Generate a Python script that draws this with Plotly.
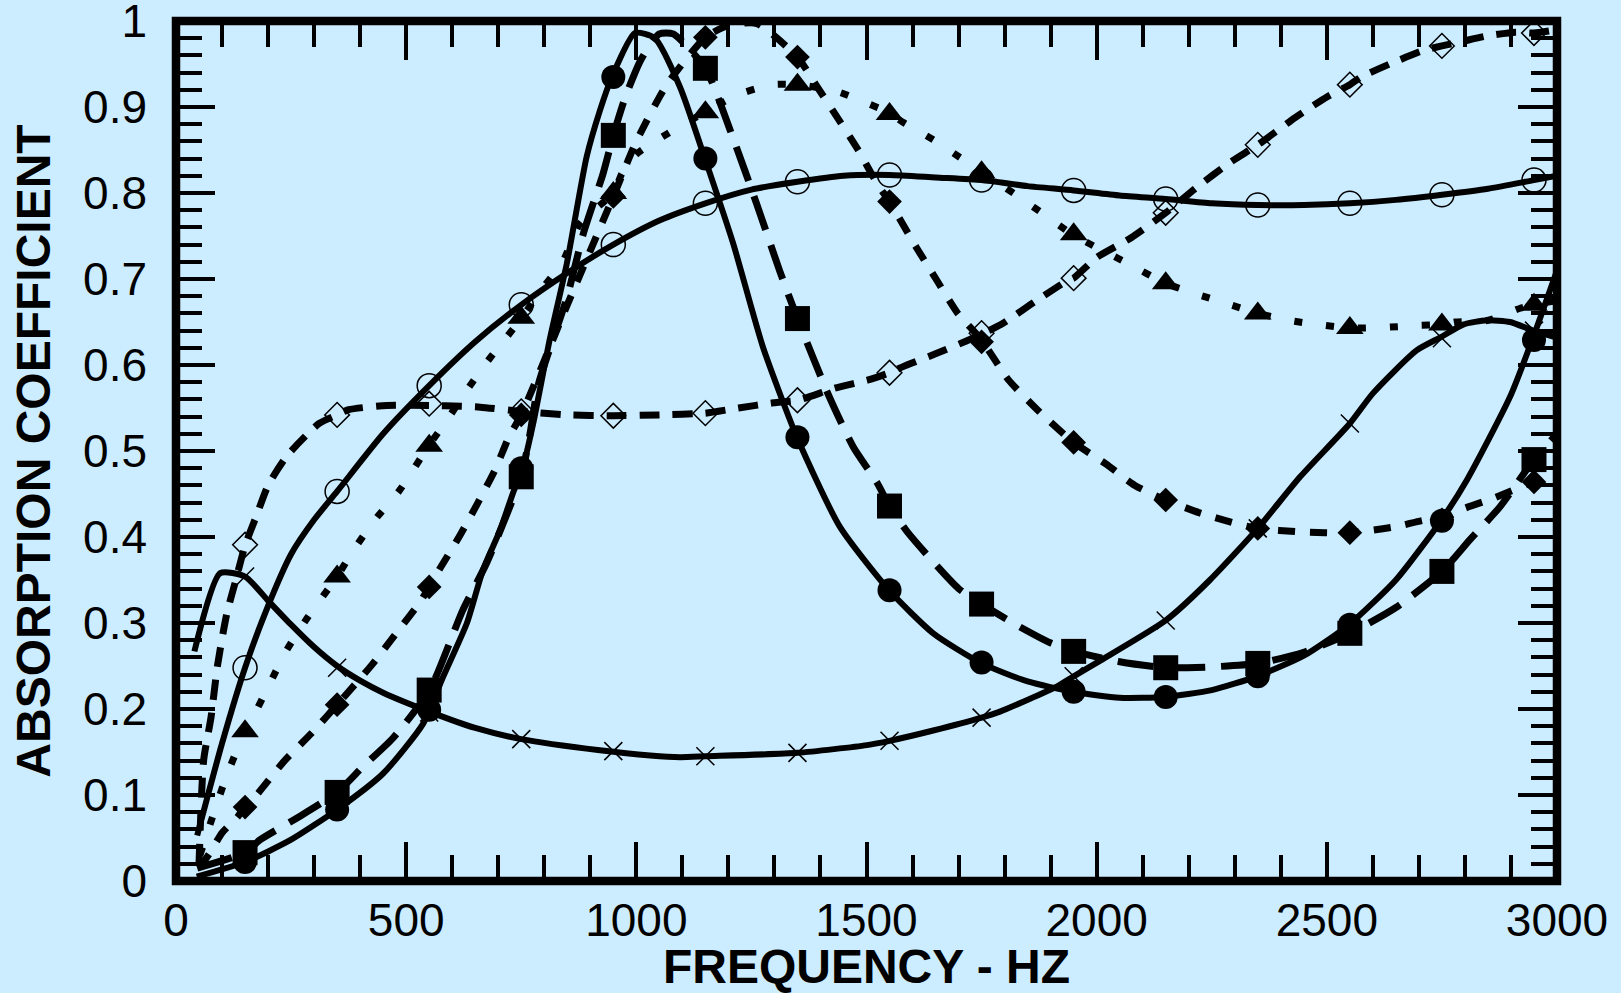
import plotly.graph_objects as go

# ---------------- data ----------------
marker_freq = [150, 350, 550, 750, 950, 1150, 1350, 1550, 1750, 1950, 2150, 2350, 2550, 2750, 2950]

# series 1: solid line, filled circles
s1_line_x = [45, 150, 250, 350, 450, 537, 580, 632, 667, 704, 732, 752, 776, 812, 849, 892, 921, 947, 997, 1040,
             1095, 1149, 1210, 1275, 1349, 1442, 1549, 1645, 1747, 1850, 1949, 2050, 2148, 2250, 2348, 2450, 2548,
             2650, 2748, 2804, 2898, 2946, 3000]
s1_line_y = [0.005, 0.022, 0.048, 0.083, 0.125, 0.183, 0.237, 0.300, 0.362, 0.408, 0.451, 0.478, 0.532, 0.630, 0.718,
             0.842, 0.896, 0.935, 0.986, 0.980, 0.923, 0.840, 0.742, 0.621, 0.516, 0.412, 0.338, 0.288, 0.254, 0.232,
             0.220, 0.213, 0.214, 0.222, 0.238, 0.262, 0.298, 0.350, 0.419, 0.466, 0.563, 0.629, 0.710]
s1_marks = [0.022, 0.083, 0.199, 0.480, 0.935, 0.840, 0.516, 0.338, 0.254, 0.220, 0.214, 0.238, 0.298, 0.419, 0.629]

# series 2: long dash, filled squares
s2_line_x = [46, 150, 183, 262, 350, 406, 471, 551, 623, 675, 750, 769, 787, 849, 885, 928, 950, 975, 1010, 1050,
             1080, 1150, 1210, 1261, 1311, 1350, 1420, 1471, 1523, 1550, 1590, 1700, 1750, 1818, 1899, 1950, 2050,
             2150, 2250, 2350, 2450, 2550, 2650, 2750, 2811, 2876, 2950, 3000]
s2_line_y = [0.015, 0.033, 0.048, 0.073, 0.103, 0.133, 0.166, 0.222, 0.315, 0.370, 0.471, 0.520, 0.577, 0.678, 0.753,
             0.823, 0.867, 0.910, 0.955, 0.985, 0.985, 0.945, 0.864, 0.788, 0.710, 0.654, 0.562, 0.505, 0.463, 0.436,
             0.405, 0.340, 0.322, 0.300, 0.277, 0.267, 0.255, 0.248, 0.249, 0.253, 0.266, 0.288, 0.318, 0.360, 0.397,
             0.435, 0.490, 0.520]
s2_marks = [0.033, 0.103, 0.222, 0.470, 0.867, 0.945, 0.654, 0.436, 0.322, 0.267, 0.248, 0.253, 0.288, 0.360, 0.490]

# series 3: short dash, filled diamonds
s3_line_x = [50, 74, 100, 133, 150, 175, 236, 300, 350, 425, 481, 531, 550, 573, 617, 656, 693, 723, 750, 850, 950,
             1000, 1065, 1150, 1200, 1262, 1350, 1391, 1440, 1482, 1524, 1550, 1608, 1651, 1697, 1750, 1808, 1871,
             1950, 2020, 2083, 2150, 2224, 2300, 2350, 2441, 2550, 2650, 2716, 2750, 2793, 2861, 2950, 3000]
s3_line_y = [0.015, 0.033, 0.056, 0.074, 0.086, 0.100, 0.140, 0.175, 0.205, 0.251, 0.290, 0.325, 0.342, 0.363, 0.402,
             0.440, 0.478, 0.516, 0.542, 0.670, 0.796, 0.860, 0.925, 0.981, 0.995, 0.997, 0.958, 0.925, 0.885, 0.850,
             0.810, 0.790, 0.737, 0.700, 0.661, 0.629, 0.583, 0.548, 0.510, 0.485, 0.460, 0.443, 0.428, 0.416, 0.410,
             0.406, 0.405, 0.412, 0.420, 0.420, 0.432, 0.445, 0.464, 0.470]
s3_marks = [0.086, 0.205, 0.342, 0.542, 0.796, 0.981, 0.958, 0.790, 0.627, 0.510, 0.443, 0.410, 0.405, 0.420, 0.464]

# series 4: dotted, filled triangles
s4_line_x = [52, 105, 133, 150, 166, 204, 240, 284, 350, 381, 432, 484, 550, 585, 631, 682, 750, 790, 840, 878, 950,
             969, 1000, 1080, 1150, 1219, 1295, 1350, 1436, 1503, 1550, 1577, 1645, 1718, 1750, 1862, 1950, 2068,
             2150, 2214, 2285, 2350, 2427, 2496, 2550, 2633, 2700, 2750, 2779, 2851, 2920, 2950, 3000]
s4_line_y = [0.030, 0.115, 0.153, 0.173, 0.189, 0.230, 0.268, 0.305, 0.354, 0.381, 0.420, 0.453, 0.507, 0.533, 0.570,
             0.608, 0.654, 0.685, 0.720, 0.765, 0.800, 0.823, 0.845, 0.873, 0.894, 0.914, 0.926, 0.926, 0.918, 0.904,
             0.893, 0.883, 0.862, 0.836, 0.825, 0.784, 0.751, 0.718, 0.695, 0.683, 0.671, 0.660, 0.651, 0.646, 0.643,
             0.644, 0.646, 0.647, 0.650, 0.652, 0.666, 0.670, 0.675]
s4_marks = [0.174, 0.354, 0.506, 0.655, 0.800, 0.894, 0.926, 0.892, 0.824, 0.752, 0.695, 0.660, 0.643, 0.647, 0.670]

# series 5: dashed, open diamonds
s5_line_x = [50, 60, 76, 90, 110, 130, 150, 175, 200, 242, 311, 350, 375, 458, 550, 620, 661, 750, 850, 950, 1050,
             1150, 1222, 1298, 1350, 1431, 1506, 1550, 1583, 1650, 1717, 1750, 1792, 1864, 1936, 1950, 2000, 2075,
             2150, 2216, 2291, 2350, 2432, 2501, 2550, 2575, 2641, 2711, 2750, 2800, 2852, 2910, 2950, 3000]
s5_line_y = [0.020, 0.140, 0.190, 0.250, 0.310, 0.350, 0.390, 0.425, 0.460, 0.495, 0.532, 0.542, 0.548, 0.553, 0.553,
             0.552, 0.551, 0.546, 0.542, 0.541, 0.542, 0.544, 0.550, 0.556, 0.559, 0.573, 0.583, 0.591, 0.599, 0.613,
             0.628, 0.636, 0.647, 0.673, 0.698, 0.701, 0.725, 0.748, 0.777, 0.806, 0.836, 0.856, 0.888, 0.912, 0.926,
             0.935, 0.951, 0.966, 0.971, 0.977, 0.983, 0.987, 0.986, 0.990]
s5_marks = [0.391, 0.542, 0.555, 0.546, 0.541, 0.544, 0.559, 0.591, 0.637, 0.701, 0.777, 0.856, 0.926, 0.971, 0.986]

# series 6: solid line, open circles
s6_line_x = [46, 100, 150, 200, 250, 300, 350, 450, 550, 650, 750, 850, 950, 1050, 1150, 1250, 1350, 1450, 1550,
             1650, 1750, 1850, 1950, 2050, 2150, 2250, 2350, 2450, 2550, 2650, 2750, 2850, 2950, 3000]
s6_line_y = [0.053, 0.160, 0.248, 0.320, 0.380, 0.420, 0.453, 0.520, 0.576, 0.627, 0.670, 0.707, 0.740, 0.768, 0.788,
             0.804, 0.813, 0.820, 0.821, 0.818, 0.815, 0.808, 0.803, 0.797, 0.793, 0.788, 0.786, 0.786, 0.788, 0.792,
             0.798, 0.805, 0.815, 0.820]
s6_marks = [0.248, 0.453, 0.576, 0.670, 0.740, 0.788, 0.813, 0.821, 0.815, 0.803, 0.793, 0.786, 0.788, 0.798, 0.815]

# series 7: solid line, crosses
s7_line_x = [40, 96, 150, 200, 250, 300, 350, 400, 450, 550, 650, 750, 921, 1030, 1095, 1150, 1350, 1501, 1550, 1645,
             1750, 1790, 1913, 1950, 2007, 2150, 2246, 2350, 2442, 2550, 2600, 2695, 2750, 2796, 2848, 2898, 2948, 3000]
s7_line_y = [0.267, 0.358, 0.354, 0.326, 0.298, 0.272, 0.250, 0.233, 0.219, 0.197, 0.178, 0.165, 0.152, 0.146, 0.144,
             0.145, 0.149, 0.158, 0.163, 0.175, 0.190, 0.197, 0.226, 0.238, 0.256, 0.303, 0.350, 0.410, 0.470, 0.532,
             0.567, 0.617, 0.633, 0.647, 0.652, 0.650, 0.640, 0.632]
s7_marks = [0.354, 0.248, 0.196, 0.165, 0.151, 0.145, 0.149, 0.163, 0.190, 0.238, 0.303, 0.410, 0.532, 0.631, 0.640]

x_tick_vals = [0, 500, 1000, 1500, 2000, 2500, 3000]
y_tick_vals = [0, 0.1, 0.2, 0.3, 0.4, 0.5, 0.6, 0.7, 0.8, 0.9, 1]

# ---------------- figure ----------------
BG = "#CCECFF"
FONT = "Liberation Sans, Arial, sans-serif"

series = [
    (s1_line_x, s1_line_y, s1_marks, "solid", 6, "circle", 24, 0),
    (s2_line_x, s2_line_y, s2_marks, "36px,16px", 7, "square", 25, 0),
    (s3_line_x, s3_line_y, s3_marks, "17px,15px", 7, "diamond", 19, 0),
    (s4_line_x, s4_line_y, s4_marks, "8px,24px", 7, "triangle-up", 24, 0),
    (s5_line_x, s5_line_y, s5_marks, "20px,13px", 7, "diamond-open", 19, 1.5),
    (s6_line_x, s6_line_y, s6_marks, "solid", 6, "circle-open", 24, 1.5),
    (s7_line_x, s7_line_y, s7_marks, "solid", 6, "x-thin-open", 18, 1.5),
]

fig = go.Figure()
for lx, ly, _m, dash, lw, _s, _sz, _mw in series:
    fig.add_trace(go.Scatter(x=lx, y=ly, mode="lines",
                             line=dict(color="black", width=lw, dash=dash, shape="spline", smoothing=0.6),
                             hoverinfo="skip", showlegend=False))
for _lx, _ly, marks, _d, _lw, sym, sz, mw in series:
    fig.add_trace(go.Scatter(x=marker_freq, y=marks, mode="markers",
                             marker=dict(symbol=sym, size=sz, color="black",
                                         line=dict(color="black", width=mw)),
                             showlegend=False))

fig.update_layout(
    width=1621, height=993,
    margin=dict(l=176, r=64, t=21, b=112, autoexpand=False),
    paper_bgcolor=BG, plot_bgcolor=BG,
    font=dict(family=FONT, color="black"),
    showlegend=False,
    shapes=[dict(type="rect", xref="paper", yref="paper", x0=0, x1=1, y0=0, y1=1,
                 line=dict(color="black", width=8.5), layer="above")],
)
fig.update_xaxes(
    range=[0, 3000], tickvals=x_tick_vals, ticks="inside", ticklen=39, tickwidth=4, tickcolor="black",
    minor=dict(dtick=100, ticks="inside", ticklen=26, tickwidth=4, tickcolor="black", showgrid=False),
    mirror="ticks", showline=False, showgrid=False, zeroline=False,
    tickfont=dict(family=FONT, size=46, color="black"), ticklabelstandoff=8, ticklabeloverflow="allow",
    title=dict(text="FREQUENCY - HZ", font=dict(family=FONT, size=48, color="black", weight="bold"), standoff=10),
)
fig.update_yaxes(
    range=[0, 1], tickvals=y_tick_vals, ticks="inside", ticklen=39, tickwidth=4, tickcolor="black",
    minor=dict(dtick=0.02, ticks="inside", ticklen=26, tickwidth=4, tickcolor="black", showgrid=False),
    mirror="ticks", showline=False, showgrid=False, zeroline=False,
    tickfont=dict(family=FONT, size=46, color="black"), ticklabelstandoff=28, ticklabeloverflow="allow",
    title=dict(text="ABSORPTION COEFFICIENT", font=dict(family=FONT, size=48, color="black", weight="bold"), standoff=17),
)

fig.write_html(
    "out.html",
    config={"displayModeBar": False},
    post_script="document.body.style.margin='0';document.body.style.background='" + BG + "';",
)
